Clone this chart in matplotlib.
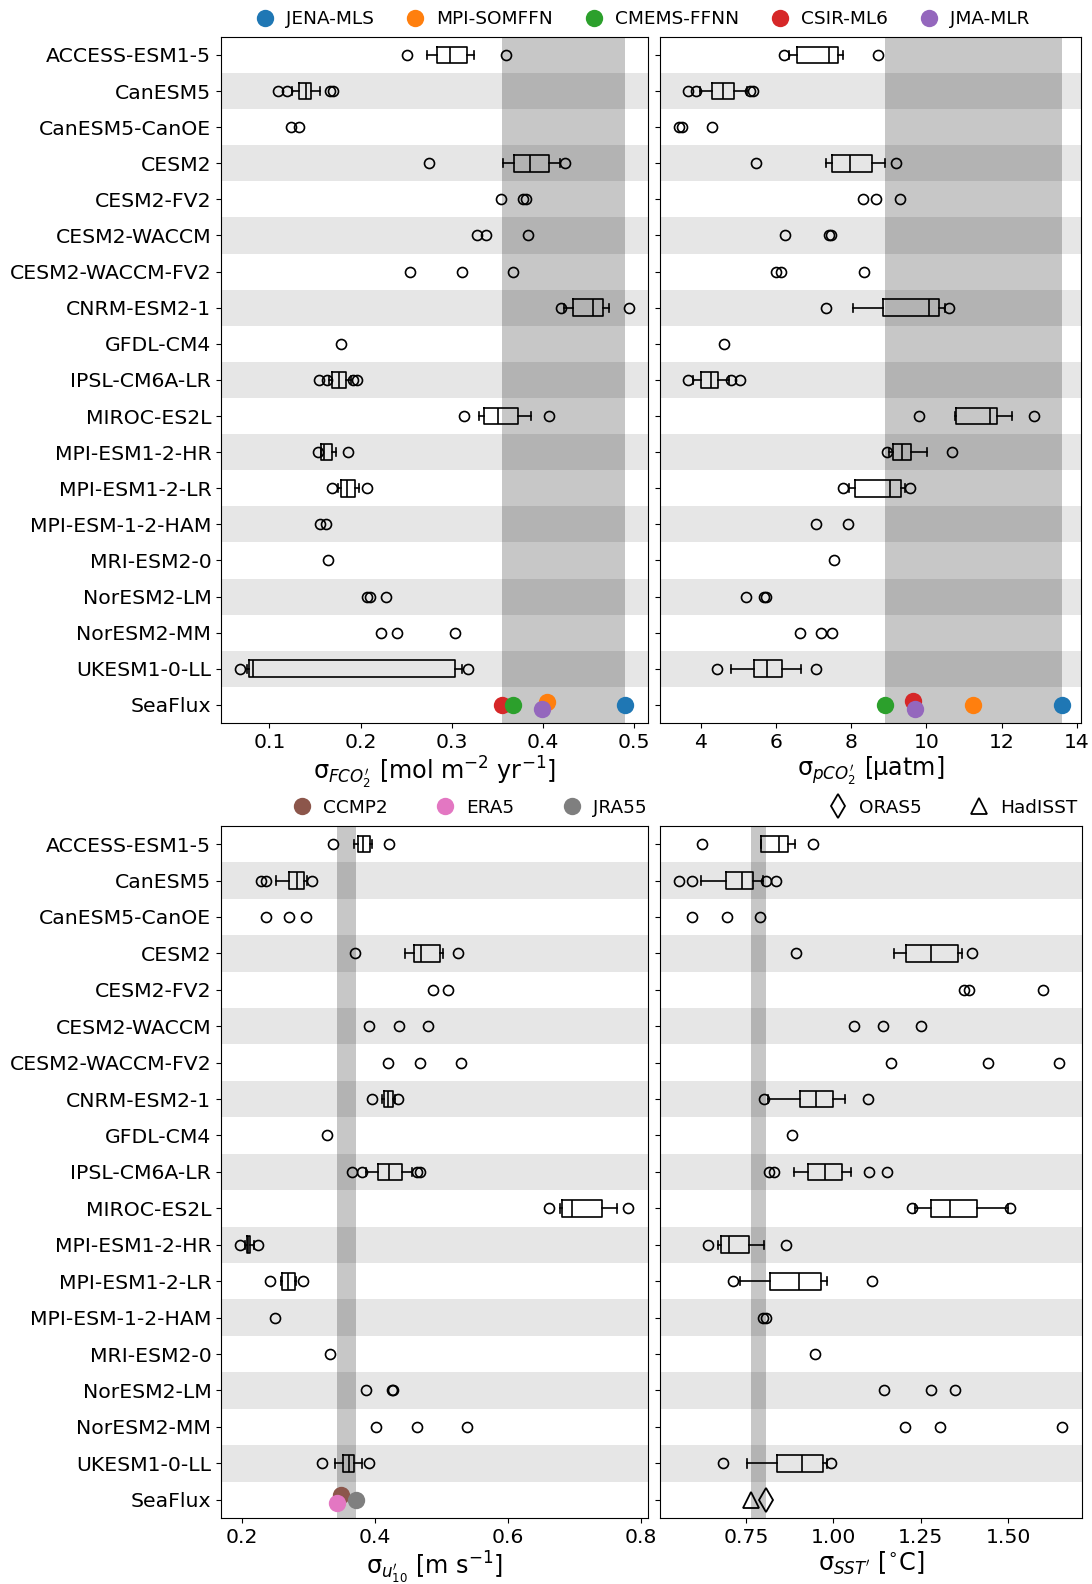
import numpy as np
import matplotlib.pyplot as plt
from matplotlib.lines import Line2D

models = ['ACCESS-ESM1-5', 'CanESM5', 'CanESM5-CanOE', 'CESM2', 'CESM2-FV2',
          'CESM2-WACCM', 'CESM2-WACCM-FV2', 'CNRM-ESM2-1', 'GFDL-CM4',
          'IPSL-CM6A-LR', 'MIROC-ES2L', 'MPI-ESM1-2-HR', 'MPI-ESM1-2-LR',
          'MPI-ESM-1-2-HAM', 'MRI-ESM2-0', 'NorESM2-LM', 'NorESM2-MM',
          'UKESM1-0-LL']
rows = models + ['SeaFlux']

# box stats: (whislo, q1, med, q3, whishi), None = too few members for a box
fco2_box = [
    (0.273, 0.284, 0.298, 0.317, 0.324),
    (0.125, 0.133, 0.140, 0.146, 0.156),
    None,
    (0.356, 0.368, 0.386, 0.407, 0.419),
    None, None, None,
    (0.423, 0.433, 0.455, 0.466, 0.472),
    None,
    (0.165, 0.169, 0.176, 0.184, 0.189),
    (0.330, 0.335, 0.351, 0.373, 0.387),
    (0.157, 0.157, 0.160, 0.169, 0.173),
    (0.175, 0.178, 0.185, 0.194, 0.198),
    None, None, None, None,
    (0.076, 0.078, 0.082, 0.303, 0.311),
]
fco2_pts = [
    [0.251, 0.359], [0.110, 0.119, 0.166, 0.170], [0.124, 0.133],
    [0.275, 0.424], [0.354, 0.378, 0.381], [0.328, 0.337, 0.384],
    [0.254, 0.311, 0.367], [0.420, 0.494], [0.179],
    [0.154, 0.163, 0.192, 0.196], [0.313, 0.407], [0.153, 0.186],
    [0.169, 0.207], [0.156, 0.162], [0.164], [0.207, 0.210, 0.228],
    [0.222, 0.240, 0.303], [0.068, 0.318],
]

pco2_box = [
    (6.34, 6.56, 7.40, 7.64, 7.79),
    (3.98, 4.29, 4.60, 4.87, 5.23),
    None,
    (7.34, 7.49, 7.98, 8.56, 8.90),
    None, None, None,
    (8.05, 8.84, 10.07, 10.33, 10.49),
    None,
    (3.80, 4.01, 4.28, 4.45, 4.74),
    (10.76, 10.78, 11.68, 11.88, 12.28),
    (9.00, 9.11, 9.36, 9.60, 10.01),
    (7.94, 8.09, 9.02, 9.32, 9.42),
    None, None, None, None,
    (4.79, 5.41, 5.76, 6.15, 6.67),
]
pco2_pts = [
    [6.20, 8.72], [3.67, 3.88, 5.30, 5.40], [3.42, 3.51, 4.29],
    [5.47, 9.18], [8.32, 8.65, 9.31], [6.25, 7.42, 7.45],
    [6.00, 6.12, 8.33], [7.32, 10.60], [4.62],
    [3.67, 4.81, 5.03], [9.79, 12.87], [8.96, 10.69],
    [7.79, 9.56], [7.07, 7.92], [7.54], [5.20, 5.67, 5.74],
    [6.63, 7.20, 7.48], [4.43, 7.06],
]

u10_box = [
    (0.368, 0.375, 0.382, 0.392, 0.396),
    (0.251, 0.271, 0.283, 0.293, 0.298),
    None,
    (0.445, 0.458, 0.469, 0.498, 0.503),
    None, None, None,
    (0.410, 0.413, 0.419, 0.427, 0.430),
    None,
    (0.387, 0.404, 0.421, 0.440, 0.455),
    (0.678, 0.682, 0.697, 0.741, 0.764),
    (0.204, 0.207, 0.209, 0.212, 0.217),
    (0.259, 0.260, 0.269, 0.279, 0.281),
    None, None, None, None,
    (0.339, 0.352, 0.360, 0.369, 0.380),
]
u10_pts = [
    [0.337, 0.421], [0.228, 0.235, 0.305], [0.236, 0.271, 0.296],
    [0.370, 0.525], [0.487, 0.510], [0.391, 0.436, 0.480],
    [0.419, 0.468, 0.530], [0.396, 0.434], [0.328],
    [0.366, 0.381, 0.463, 0.468], [0.662, 0.781], [0.196, 0.223],
    [0.242, 0.292], [0.249], [0.332], [0.387, 0.426, 0.427],
    [0.402, 0.463, 0.538], [0.320, 0.391],
]

sst_box = [
    (0.792, 0.793, 0.845, 0.871, 0.890),
    (0.621, 0.692, 0.738, 0.771, 0.800),
    None,
    (1.174, 1.208, 1.280, 1.356, 1.367),
    None, None, None,
    (0.814, 0.904, 0.949, 0.998, 1.033),
    None,
    (0.887, 0.927, 0.977, 1.026, 1.049),
    (1.233, 1.278, 1.334, 1.411, 1.500),
    (0.671, 0.679, 0.700, 0.760, 0.802),
    (0.733, 0.820, 0.901, 0.965, 0.981),
    None, None, None, None,
    (0.752, 0.838, 0.911, 0.969, 0.981),
]
sst_pts = [
    [0.623, 0.942], [0.558, 0.596, 0.807, 0.836], [0.596, 0.695, 0.790],
    [0.892, 1.396], [1.374, 1.389, 1.600], [1.060, 1.143, 1.250],
    [1.164, 1.443, 1.644], [0.801, 1.099], [0.882],
    [0.815, 0.830, 1.101, 1.152], [1.226, 1.505], [0.642, 0.864],
    [0.714, 1.111], [0.798, 0.806], [0.947], [1.144, 1.279, 1.348],
    [1.205, 1.305, 1.655], [0.683, 0.992],
]

# observation-based products
pco2_products = ['JENA-MLS', 'MPI-SOMFFN', 'CMEMS-FFNN', 'CSIR-ML6', 'JMA-MLR']
pco2_colors = ['tab:blue', 'tab:orange', 'tab:green', 'tab:red', 'tab:purple']
fco2_obs = [0.490, 0.404, 0.367, 0.355, 0.399]
pco2_obs = [13.61, 11.23, 8.91, 9.63, 9.70]
fco2_dy = [0, -0.09, 0, 0, 0.11]
pco2_dy = [0, 0, 0, -0.1, 0.11]

wind_products = ['CCMP2', 'ERA5', 'JRA55']
wind_colors = ['tab:brown', 'tab:pink', 'tab:gray']
u10_obs = [0.348, 0.343, 0.372]
u10_dy = [-0.14, 0.1, 0]

sst_products = ['ORAS5', 'HadISST']
sst_markers = ['d', '^']
sst_ms = [12.5, 12]
sst_obs = [0.807, 0.764]

FS = 14.7
plt.rcParams['font.size'] = FS
plt.rcParams['xtick.labelsize'] = FS
plt.rcParams['ytick.labelsize'] = FS

fig = plt.figure(figsize=(10.92, 15.84), dpi=100)
ax1 = fig.add_axes([0.2024, 0.5436, 0.3910, 0.4331])
ax2 = fig.add_axes([0.6044, 0.5436, 0.3855, 0.4331])
ax3 = fig.add_axes([0.2024, 0.0417, 0.3910, 0.4369])
ax4 = fig.add_axes([0.6044, 0.0417, 0.3864, 0.4369])

n = len(rows)
ypos = np.arange(n)


def panel(ax, boxes, pts, obs, xlim, xticks, xlabel, show_labels):
    # alternating row stripes
    for i in range(1, n, 2):
        ax.axhspan(i - 0.5, i + 0.5, color='0.9', lw=0, zorder=0)
    ax.axvspan(min(obs), max(obs), color='k', alpha=0.22, lw=0, zorder=0.5)

    stats, pos = [], []
    for i, b in enumerate(boxes):
        if b is None:
            continue
        stats.append(dict(whislo=b[0], q1=b[1], med=b[2], q3=b[3],
                          whishi=b[4], fliers=[]))
        pos.append(i)
    lp = dict(color='k', lw=1.2)
    ax.bxp(stats, positions=pos, widths=0.46, orientation='horizontal',
           showfliers=False, boxprops=lp, whiskerprops=lp, capprops=lp,
           medianprops=lp, manage_ticks=False)
    for i, p in enumerate(pts):
        ax.plot(p, [i] * len(p), 'o', mfc='none', mec='k', ms=7.2,
                mew=1.2, zorder=3)

    ax.set_ylim(n - 0.5, -0.5)
    ax.set_xlim(*xlim)
    ax.set_xticks(xticks)
    ax.set_yticks(ypos)
    ax.set_yticklabels(rows)
    if not show_labels:
        ax.tick_params(labelleft=False)
    ax.set_xlabel(xlabel, fontsize=17.2, labelpad=2)


panel(ax1, fco2_box, fco2_pts, fco2_obs, (0.047, 0.515),
      [0.1, 0.2, 0.3, 0.4, 0.5],
      'σ$_{FCO_2^{\\prime}}$ [mol m$^{-2}$ yr$^{-1}$]', True)
panel(ax2, pco2_box, pco2_pts, pco2_obs, (2.915, 14.11),
      [4, 6, 8, 10, 12, 14],
      'σ$_{pCO_2^{\\prime}}$ [µatm]', False)
panel(ax3, u10_box, u10_pts, u10_obs, (0.168, 0.811),
      [0.2, 0.4, 0.6, 0.8],
      'σ$_{u_{10}^{\\prime}}$ [m s$^{-1}$]', True)
panel(ax4, sst_box, sst_pts, sst_obs, (0.504, 1.711),
      [0.75, 1.0, 1.25, 1.5],
      'σ$_{SST^{\\prime}}$ [$^{\\circ}$C]', False)

sf = n - 1
draw_order = [0, 1, 3, 2, 4]
for ax, vals, dys in [(ax1, fco2_obs, fco2_dy), (ax2, pco2_obs, pco2_dy)]:
    for k in draw_order:
        ax.plot(vals[k], sf + dys[k], 'o', color=pco2_colors[k], ms=12.5,
                mew=0, zorder=4)
for k in range(len(wind_products)):
    ax3.plot(u10_obs[k], sf + u10_dy[k], 'o', color=wind_colors[k], ms=12.5,
             mew=0, zorder=4)
for k in range(len(sst_products)):
    ax4.plot(sst_obs[k], sf, sst_markers[k], mfc='none', mec='k',
             ms=sst_ms[k], mew=1.3, zorder=4)

# legends
h1 = [Line2D([], [], ls='', marker='o', color=c, ms=12.5, mew=0)
      for c in pco2_colors]
fig.legend(h1, pco2_products, loc='center left', ncol=5, frameon=False,
           bbox_to_anchor=(0.234, 0.988), fontsize=13.3, borderpad=0,
           borderaxespad=0, handlelength=1.0, handletextpad=0.64,
           columnspacing=1.73)

h3 = [Line2D([], [], ls='', marker='o', color=c, ms=12.5, mew=0)
      for c in wind_colors]
ax3.legend(h3, wind_products, loc='center right', ncol=3, frameon=False,
           bbox_to_anchor=(0.9965, 1.026), fontsize=13.3, borderpad=0,
           borderaxespad=0, handlelength=1.0, handletextpad=0.64,
           columnspacing=2.6)

h4 = [Line2D([], [], ls='', marker=m, mfc='none', mec='k', ms=s, mew=1.3)
      for m, s in zip(sst_markers, sst_ms)]
ax4.legend(h4, sst_products, loc='center right', ncol=2, frameon=False,
           bbox_to_anchor=(0.988, 1.026), fontsize=13.3, borderpad=0,
           borderaxespad=0, handlelength=1.0, handletextpad=0.64,
           columnspacing=2.6)

fig.savefig('out.png', dpi=100)
